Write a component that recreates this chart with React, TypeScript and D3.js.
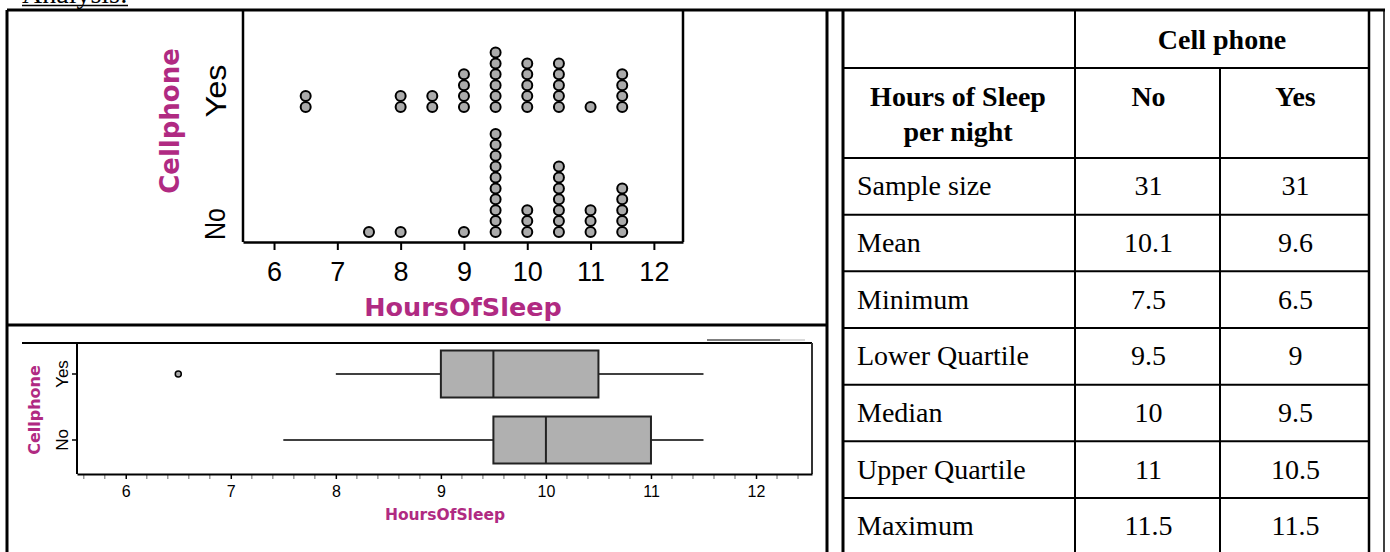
import React, { useRef, useEffect } from "react";
import * as d3 from "d3";

// dot plot: how many students at each value
const sleepValues = [6.5, 7.5, 8, 8.5, 9, 9.5, 10, 10.5, 11, 11.5];
const yesCounts = [2, 0, 2, 2, 4, 6, 5, 5, 1, 4];
const noCounts = [0, 1, 1, 0, 1, 10, 3, 7, 3, 5];

const groups = ["No", "Yes"];
const xTicks = [6, 7, 8, 9, 10, 11, 12];

// summary per group, same order as groups (No, Yes)
const sampleSize = [31, 31];
const mean = [10.1, 9.6];
const minimum = [7.5, 6.5];
const lowerQuartile = [9.5, 9];
const median = [10, 9.5];
const upperQuartile = [11, 10.5];
const maximum = [11.5, 11.5];
const whiskerLow = [7.5, 8];
const outliers = [[], [6.5]];

const statLabels = [
  "Sample size",
  "Mean",
  "Minimum",
  "Lower Quartile",
  "Median",
  "Upper Quartile",
  "Maximum",
];

function App() {
  const svgRef = useRef<SVGSVGElement>(null);

  useEffect(() => {
    const svg = d3.select(svgRef.current);
    svg.selectAll("*").remove();

    const magenta = "#b02a82";
    const sans = "'Liberation Sans', Arial, sans-serif";
    const boldSans = "'DejaVu Sans', Verdana, sans-serif";
    const serif = "'Liberation Serif', 'Times New Roman', serif";

    const line = (x1, y1, x2, y2, w = 2, color = "#000") =>
      svg
        .append("line")
        .attr("x1", x1)
        .attr("y1", y1)
        .attr("x2", x2)
        .attr("y2", y2)
        .attr("stroke", color)
        .attr("stroke-width", w);

    // heading cut off at the top
    svg
      .append("text")
      .attr("x", 22)
      .attr("y", 3)
      .style("font-family", serif)
      .style("font-size", "28px")
      .text("Analysis:");
    line(22, 5.5, 128, 5.5, 1.5);

    // outer frame of the page layout
    line(7, 10, 1385, 10, 3);
    line(7, 10, 7, 552, 3);
    line(827, 10, 827, 552, 3);
    line(7, 325, 827, 325, 3);

    // ---------- dot plot ----------
    const x = d3.scaleLinear().domain([5.51, 12.46]).range([243, 683]);
    const y = d3.scalePoint().domain(groups).range([232, 107]);

    line(243, 10, 243, 242, 2.5);
    line(683, 10, 683, 242, 2.5);

    const ax = svg
      .append("g")
      .attr("transform", "translate(0,242)")
      .call(
        d3
          .axisBottom(x)
          .tickValues(xTicks)
          .tickSize(8)
          .tickSizeOuter(0)
          .tickPadding(12)
          .tickFormat(d3.format("d"))
      );
    ax.select(".domain").attr("stroke-width", 2.5);
    ax.selectAll(".tick line").attr("stroke-width", 2);
    ax.selectAll("text")
      .style("font-family", sans)
      .style("font-size", "27px")
      .attr("fill", "#000");

    const counts = { No: noCounts, Yes: yesCounts };
    groups.forEach((g) => {
      const dots = [];
      sleepValues.forEach((v, i) => {
        d3.range(counts[g][i]).forEach((k) => dots.push({ v, k }));
      });
      svg
        .selectAll(".dot" + g)
        .data(dots)
        .enter()
        .append("circle")
        .attr("cx", (d) => x(d.v))
        .attr("cy", (d) => y(g) - d.k * 10.9)
        .attr("r", 5)
        .attr("fill", "#ababab")
        .attr("stroke", "#000")
        .attr("stroke-width", 2);
    });

    svg
      .append("text")
      .attr("transform", "translate(226,91) rotate(-90)")
      .attr("text-anchor", "middle")
      .attr("textLength", 53)
      .attr("lengthAdjust", "spacingAndGlyphs")
      .style("font-family", sans)
      .style("font-size", "29px")
      .text("Yes");
    svg
      .append("text")
      .attr("transform", "translate(225,224) rotate(-90)")
      .attr("text-anchor", "middle")
      .attr("textLength", 32)
      .attr("lengthAdjust", "spacingAndGlyphs")
      .style("font-family", sans)
      .style("font-size", "29px")
      .text("No");

    svg
      .append("text")
      .attr("transform", "translate(179,121) rotate(-90)")
      .attr("text-anchor", "middle")
      .attr("fill", magenta)
      .style("font-family", boldSans)
      .style("font-weight", "bold")
      .style("font-size", "26px")
      .text("Cellphone");
    svg
      .append("text")
      .attr("x", 463)
      .attr("y", 316)
      .attr("text-anchor", "middle")
      .attr("fill", magenta)
      .style("font-family", boldSans)
      .style("font-weight", "bold")
      .style("font-size", "25.5px")
      .text("HoursOfSleep");

    // ---------- box plot ----------
    const xb = d3.scaleLinear().domain([5.536, 12.533]).range([77, 812]);
    const yb = d3.scalePoint().domain(groups).range([440, 374]);

    line(22, 343, 812, 343, 2);
    line(77, 343, 77, 474, 2);
    line(812, 343, 812, 474, 2, "#333");
    line(707, 340, 780, 340, 1.5, "#555");
    line(780, 340, 805, 340, 1.5, "#ccc");

    // minor ticks every 0.2
    const minor = d3.range(56, 126, 2).map((d) => d / 10).filter((d) => d % 1 !== 0);
    svg
      .selectAll(".minor")
      .data(minor)
      .enter()
      .append("line")
      .attr("x1", (d) => xb(d))
      .attr("x2", (d) => xb(d))
      .attr("y1", 474)
      .attr("y2", 479)
      .attr("stroke", "#999")
      .attr("stroke-width", 1.5);

    const bx = svg
      .append("g")
      .attr("transform", "translate(0,474)")
      .call(
        d3
          .axisBottom(xb)
          .tickValues(xTicks)
          .tickSize(5)
          .tickSizeOuter(0)
          .tickPadding(7)
          .tickFormat(d3.format("d"))
      );
    bx.select(".domain").attr("stroke-width", 2);
    bx.selectAll(".tick line").attr("stroke-width", 1.5);
    bx.selectAll("text")
      .style("font-family", sans)
      .style("font-size", "16px")
      .attr("fill", "#000");

    svg
      .selectAll(".ytick")
      .data(groups)
      .enter()
      .append("line")
      .attr("x1", 72)
      .attr("x2", 77)
      .attr("y1", (d) => yb(d))
      .attr("y2", (d) => yb(d))
      .attr("stroke", "#000")
      .attr("stroke-width", 1.5);

    groups.forEach((g, i) => {
      const cy = yb(g);
      line(xb(whiskerLow[i]), cy, xb(lowerQuartile[i]), cy, 1.5);
      line(xb(upperQuartile[i]), cy, xb(maximum[i]), cy, 1.5);
      svg
        .append("rect")
        .attr("x", xb(lowerQuartile[i]))
        .attr("y", cy - 23.5)
        .attr("width", xb(upperQuartile[i]) - xb(lowerQuartile[i]))
        .attr("height", 47)
        .attr("fill", "#b0b0b0")
        .attr("stroke", "#222")
        .attr("stroke-width", 2);
      line(xb(median[i]), cy - 23.5, xb(median[i]), cy + 23.5, 2, "#222");
      svg
        .selectAll(".out" + g)
        .data(outliers[i])
        .enter()
        .append("circle")
        .attr("cx", (d) => xb(d))
        .attr("cy", cy)
        .attr("r", 3)
        .attr("fill", "#aaa")
        .attr("stroke", "#000")
        .attr("stroke-width", 1.5);

      svg
        .append("text")
        .attr("transform", `translate(68,${cy}) rotate(-90)`)
        .attr("text-anchor", "middle")
        .style("font-family", sans)
        .style("font-size", "17px")
        .text(g);
    });

    svg
      .append("text")
      .attr("transform", "translate(40,410) rotate(-90)")
      .attr("text-anchor", "middle")
      .attr("fill", magenta)
      .style("font-family", boldSans)
      .style("font-weight", "bold")
      .style("font-size", "16px")
      .text("Cellphone");
    svg
      .append("text")
      .attr("x", 445)
      .attr("y", 520)
      .attr("text-anchor", "middle")
      .attr("fill", magenta)
      .style("font-family", boldSans)
      .style("font-weight", "bold")
      .style("font-size", "15.5px")
      .text("HoursOfSleep");

    // ---------- summary table ----------
    const rows = [sampleSize, mean, minimum, lowerQuartile, median, upperQuartile, maximum];
    const rowY = d3.scaleBand().domain(statLabels).range([158, 158 + 7 * 56.67]);
    const colX = d3.scaleBand().domain(groups).range([1075, 1369]);

    line(843, 10, 843, 552, 3);
    line(1369, 10, 1369, 552, 2.5);
    line(1384, 10, 1384, 552, 1.5);
    line(1075, 10, 1075, 552, 2);
    line(1220, 68, 1220, 552, 2);
    [68, ...statLabels.map((s) => rowY(s))].forEach((yy) => line(843, yy, 1369, yy, 2));

    const cell = (tx, ty, txt, anchor, bold) =>
      svg
        .append("text")
        .attr("x", tx)
        .attr("y", ty)
        .attr("text-anchor", anchor)
        .style("font-family", serif)
        .style("font-weight", bold ? "bold" : "normal")
        .style("font-size", "28px")
        .text(txt);

    cell(1222, 49, "Cell phone", "middle", true);
    cell(958, 106, "Hours of Sleep", "middle", true);
    cell(958, 141, "per night", "middle", true);
    groups.forEach((g) => cell(colX(g) + colX.bandwidth() / 2, 106, g, "middle", true));

    statLabels.forEach((s, r) => {
      const ty = rowY(s) + rowY.bandwidth() / 2 + 9;
      cell(857, ty, s, "start", false);
      groups.forEach((g, i) => cell(colX(g) + colX.bandwidth() / 2, ty, String(rows[r][i]), "middle", false));
    });
  }, []);

  return (
    <svg
      ref={svgRef}
      width={1390}
      height={552}
      style={{ position: "absolute", left: 0, top: 0, background: "#fff" }}
    ></svg>
  );
}

export default App;
